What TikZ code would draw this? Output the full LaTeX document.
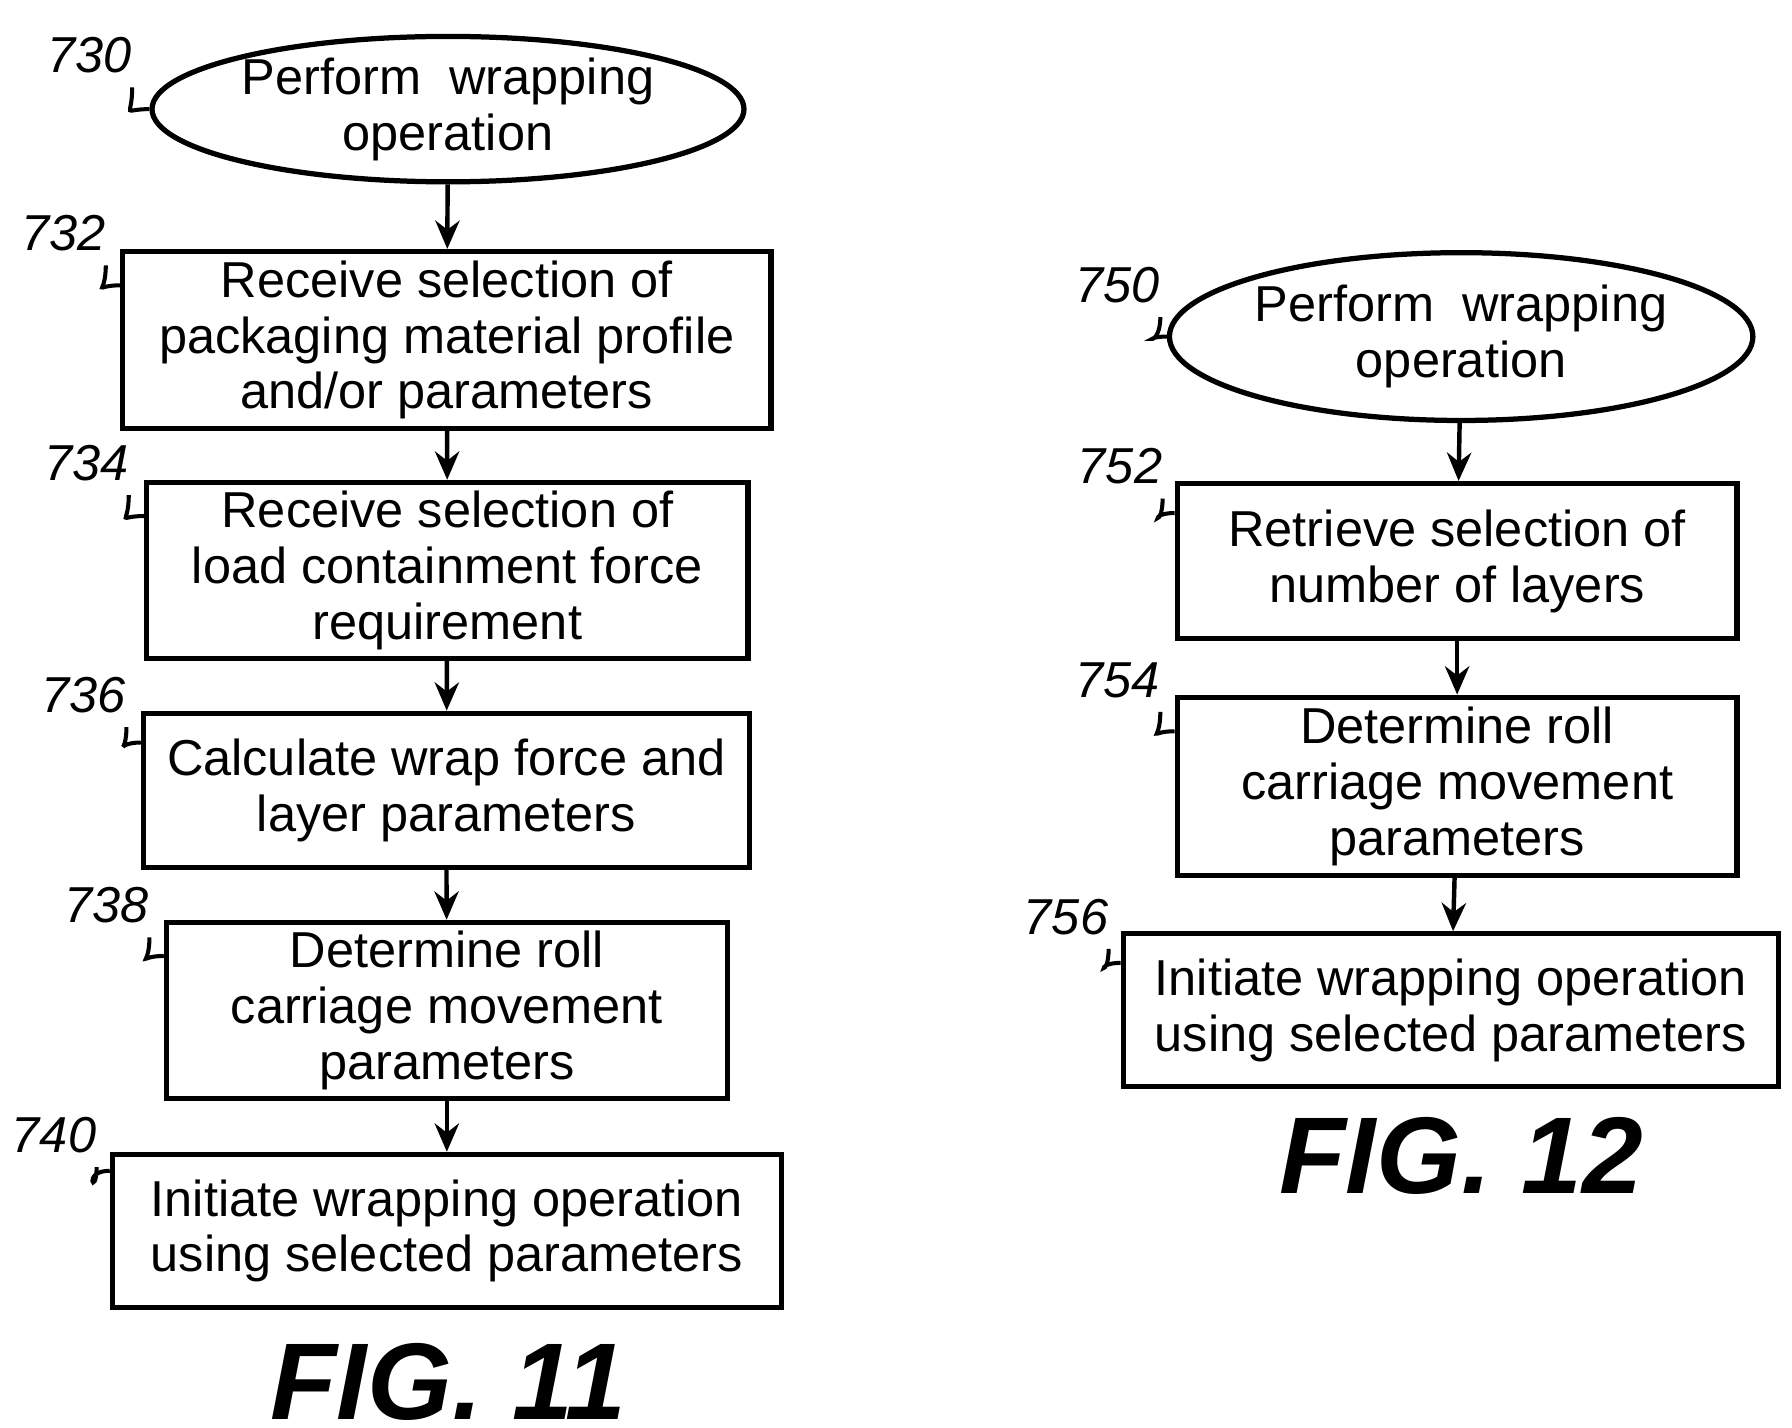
\documentclass[tikz,border=0pt]{standalone}
\usepackage{fontspec}
\setmainfont{Liberation Sans}
\usetikzlibrary{shapes.geometric,calc,arrows.meta}
\tikzset{
  proc/.style = {draw, line width=1.3pt, align=center, inner sep=0pt,
                 font=\fontsize{12.5}{13.8}\selectfont},
  start/.style = {proc, ellipse},
  flow/.style = {-{Stealth[length=7pt,width=6pt]}, line width=1.1pt},
  ref/.style = {font=\fontsize{12.5}{14}\selectfont\itshape},
  lead/.style = {line width=1pt},
  fig/.style = {font=\fontsize{27}{30}\selectfont\itshape\bfseries}
}
\begin{document}
\begin{tikzpicture}[x = .01cm, y = -.01cm]
\useasboundingbox (0,0) rectangle (1560,1243);
% FIG. 11
\node[start, minimum width=5.15cm, minimum height=1.10cm] (s730) at (390,95) {Perform\ \ wrapping\\operation};
\node[proc, minimum width=5.64cm, minimum height=1.54cm] (b732) at (389,296) {Receive selection of\\packaging material profile\\and/or parameters};
\node[proc, minimum width=5.23cm, minimum height=1.53cm] (b734) at (389.5,496.5) {Receive selection of\\load containment force\\requirement};
\node[proc, minimum width=5.27cm, minimum height=1.34cm] (b736) at (388.5,688) {Calculate wrap force and\\layer parameters};
\node[proc, minimum width=4.88cm, minimum height=1.53cm] (b738) at (389,879.5) {Determine roll\\carriage movement\\parameters};
\node[proc, minimum width=5.82cm, minimum height=1.33cm] (b740) at (389,1071.5) {Initiate wrapping operation\\using selected parameters};
\node[fig] (f11) at (390,1203) {FIG. 11};
\draw[flow] (s730) -- (b732);
\draw[flow] (b732) -- (b734);
\draw[flow] (b734) -- (b736);
\draw[flow] (b736) -- (b738);
\draw[flow] (b738) -- (b740);
% FIG. 12
\node[start, minimum width=4.93cm, minimum height=1.46cm] (s750) at (1272,293) {Perform\ \ wrapping\\operation};
\node[proc, minimum width=4.87cm, minimum height=1.35cm] (b752) at (1268.5,488.5) {Retrieve selection of\\number of layers};
\node[proc, minimum width=4.87cm, minimum height=1.55cm] (b754) at (1268.5,684.5) {Determine roll\\carriage movement\\parameters};
\node[proc, minimum width=5.70cm, minimum height=1.33cm] (b756) at (1263,879.5) {Initiate wrapping operation\\using selected parameters};
\node[fig] (f12) at (1272,1006) {FIG. 12};
\draw[flow] (s750) -- (b752);
\draw[flow] (b752) -- (b754);
\draw[flow] (b754) -- (b756);
% reference numerals
\foreach \n/\b/\lx/\ly/\d in {730/s730/78/48/0, 732/b732/55/203/20, 734/b734/75/403/20,
    736/b736/73/605/20, 738/b738/93/788/20, 740/b740/47/988/12,
    750/s750/973/248/0, 752/b752/975/406/20, 754/b754/973/592/20, 756/b756/928/798/20} {
  \node[ref] (r\n) at (\lx,\ly) {\n};
  \coordinate (e\n) at ($(\b.north west)!\d/100!(\b.south west)$);
}
\foreach \n/\b in {730/s730, 750/s750} \coordinate (e\n) at (\b.west);
\foreach \n in {730,732,734,736,738,740,750,752,754,756}
  \draw[lead] ($(r\n.south east)+(-12,0)$) .. controls +(0,28) and +(-25,0) .. (e\n);
\end{tikzpicture}
\end{document}
